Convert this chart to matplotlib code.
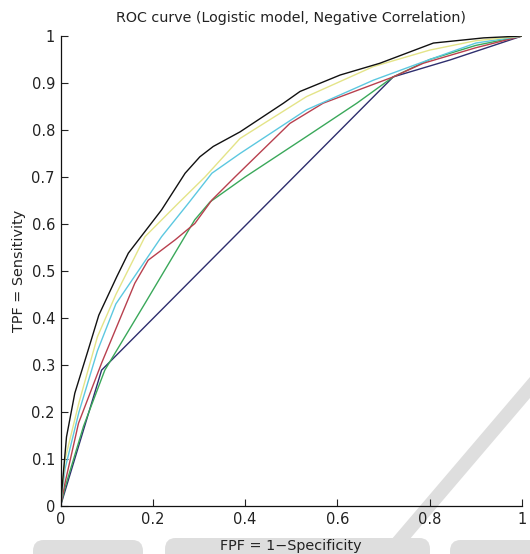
import matplotlib
matplotlib.use("Agg")
import matplotlib.pyplot as plt
from matplotlib.patches import Polygon, FancyBboxPatch

title = "ROC curve (Logistic model, Negative Correlation)"
xlabel = "FPF = 1\u2212Specificity"
ylabel = "TPF = Sensitivity"
xticks = [0, 0.2, 0.4, 0.6, 0.8, 1]
xticklabels = ["0", "0.2", "0.4", "0.6", "0.8", "1"]
yticks = [0, 0.1, 0.2, 0.3, 0.4, 0.5, 0.6, 0.7, 0.8, 0.9, 1]
yticklabels = ["0", "0.1", "0.2", "0.3", "0.4", "0.5", "0.6", "0.7", "0.8", "0.9", "1"]

navy_x = [0, 0.089, 0.721, 0.844, 1.0]
navy_y = [0, 0.289, 0.913, 0.949, 1.0]

green_x = [0, 0.01, 0.05, 0.096, 0.183, 0.291, 0.324, 0.40, 0.533, 0.642, 0.721, 0.80, 0.90, 1.0]
green_y = [0, 0.04, 0.17, 0.289, 0.431, 0.609, 0.647, 0.70, 0.786, 0.857, 0.913, 0.95, 0.98, 1.0]

red_x = [0, 0.01, 0.039, 0.089, 0.161, 0.19, 0.248, 0.291, 0.328, 0.378, 0.497, 0.569, 0.721, 0.786, 0.90, 1.0]
red_y = [0, 0.05, 0.176, 0.304, 0.474, 0.523, 0.566, 0.601, 0.651, 0.70, 0.814, 0.857, 0.913, 0.942, 0.975, 1.0]

cyan_x = [0, 0.01, 0.04, 0.08, 0.12, 0.219, 0.277, 0.328, 0.389, 0.533, 0.678, 0.786, 0.90, 1.0]
cyan_y = [0, 0.08, 0.20, 0.33, 0.43, 0.573, 0.644, 0.708, 0.75, 0.843, 0.906, 0.945, 0.985, 1.0]

yellow_x = [0, 0.01, 0.04, 0.08, 0.12, 0.183, 0.255, 0.313, 0.389, 0.533, 0.678, 0.80, 0.90, 1.0]
yellow_y = [0, 0.10, 0.22, 0.36, 0.45, 0.573, 0.644, 0.70, 0.782, 0.871, 0.935, 0.97, 0.99, 1.0]

black_x = [0, 0.013, 0.031, 0.06, 0.083, 0.122, 0.147, 0.219, 0.27, 0.302, 0.331, 0.389, 0.483, 0.519, 0.606, 0.692, 0.808, 0.917, 1.0]
black_y = [0, 0.147, 0.24, 0.332, 0.406, 0.488, 0.538, 0.63, 0.708, 0.743, 0.765, 0.796, 0.857, 0.882, 0.917, 0.942, 0.985, 0.996, 1.0]

series = [
    (navy_x, navy_y, "#2e2e6e"),
    (green_x, green_y, "#3aa85a"),
    (red_x, red_y, "#b8404e"),
    (cyan_x, cyan_y, "#5cc8e0"),
    (yellow_x, yellow_y, "#e4e488"),
    (black_x, black_y, "#111111"),
]

W, H = 530, 554
fig = plt.figure(figsize=(W / 100, H / 100), dpi=100)

# faint publisher watermark (background decoration), in pixel coords from top
def px(x, y):
    return (x / W, 1 - y / H)

wm = "#dedede"
fig.patches.append(Polygon([px(391, 540), px(530, 377), px(530, 398), px(409, 540)],
                           closed=True, transform=fig.transFigure, facecolor=wm,
                           edgecolor="none", zorder=-5))
for x0, x1, y0 in [(33, 143, 540), (165, 430, 538), (450, 540, 540)]:
    fig.patches.append(FancyBboxPatch(px(x0, H + 10), (x1 - x0) / W, (H + 10 - y0) / H,
                                      boxstyle="round,pad=0,rounding_size=0.02",
                                      transform=fig.transFigure, facecolor=wm,
                                      edgecolor="none", zorder=-5))

ax = fig.add_axes([60.5 / W, 48 / H, 461.5 / W, 470 / H])
ax.set_facecolor("none")

for xs, ys, c in series:
    ax.plot(xs, ys, color=c, lw=1.0, solid_joinstyle="miter")

ax.set_xlim(0, 1)
ax.set_ylim(0, 1)
ax.set_xticks(xticks)
ax.set_xticklabels(xticklabels)
ax.set_yticks(yticks)
ax.set_yticklabels(yticklabels)
ax.tick_params(direction="in", length=5, width=0.8, labelsize=10.5, colors="#222222", pad=4)
for s in ["top", "right"]:
    ax.spines[s].set_visible(False)
for s in ["left", "bottom"]:
    ax.spines[s].set_linewidth(0.9)
    ax.spines[s].set_color("#111111")

ax.set_title(title, fontsize=10.3, color="#222222", pad=10)
ax.set_xlabel(xlabel, fontsize=10.4, color="#222222", labelpad=9)
ax.set_ylabel(ylabel, fontsize=10.4, color="#222222", labelpad=4)

fig.savefig("out.png", dpi=100)
